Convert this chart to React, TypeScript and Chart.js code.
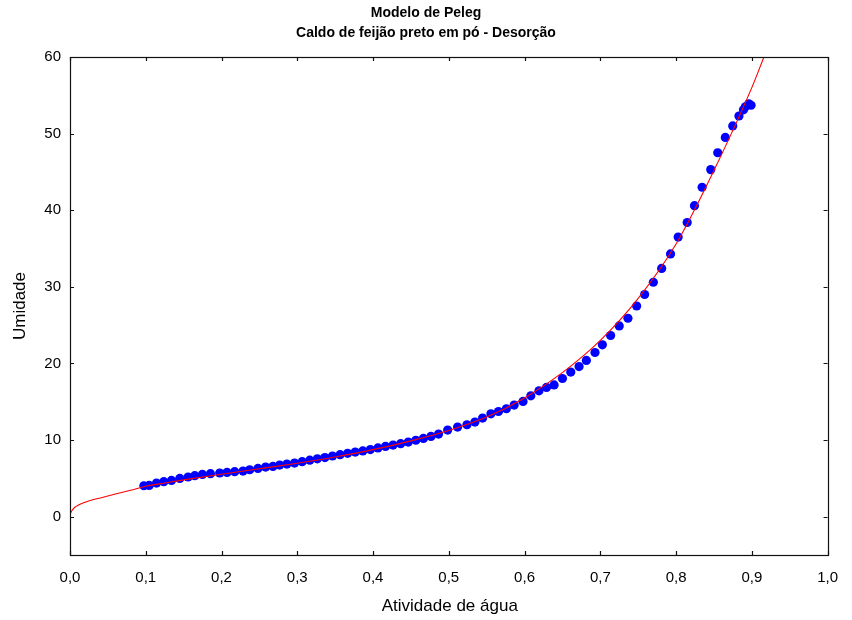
import React, { useEffect, useRef } from "react";
import { Chart, registerables } from "chart.js";

Chart.register(...registerables);

const titleLines = ["Modelo de Peleg", "Caldo de feijão preto em pó - Desorção"];
const xTitle = "Atividade de água";
const yTitle = "Umidade";

const xTicks = [0, 0.1, 0.2, 0.3, 0.4, 0.5, 0.6, 0.7, 0.8, 0.9, 1.0];
const yTicks = [0, 10, 20, 30, 40, 50, 60];

// Observed points (water activity, moisture)
const obsAw = [
  0.0975, 0.1045, 0.1142, 0.1238, 0.134, 0.1449, 0.1559, 0.1647, 0.1748, 0.1854,
  0.1976, 0.2073, 0.2174, 0.2284, 0.2372, 0.2481, 0.2582, 0.2679, 0.2767, 0.2863,
  0.2964, 0.3065, 0.3165, 0.3265, 0.3365, 0.3465, 0.3565, 0.3665, 0.3765, 0.3865,
  0.3965, 0.4065, 0.4165, 0.4265, 0.4365, 0.4465, 0.4565, 0.4665, 0.4765, 0.4865,
  0.4985, 0.5116, 0.524, 0.5345, 0.5446, 0.5556, 0.5656, 0.576, 0.5863, 0.598,
  0.6083, 0.619, 0.629, 0.639, 0.65, 0.661, 0.672, 0.6816, 0.693, 0.7027,
  0.7136, 0.725, 0.7365, 0.748, 0.7585, 0.77, 0.781, 0.7927, 0.8028, 0.8147,
  0.8243, 0.8344, 0.8458, 0.855, 0.865, 0.8748, 0.883, 0.889, 0.8915, 0.896, 0.899,
];
const obsM = [
  4.04, 4.08, 4.39, 4.57, 4.73, 5.0, 5.18, 5.35, 5.52, 5.61,
  5.7, 5.78, 5.87, 5.96, 6.13, 6.3, 6.48, 6.56, 6.74, 6.87,
  7.0, 7.18, 7.38, 7.55, 7.72, 7.92, 8.1, 8.27, 8.43, 8.58,
  8.76, 8.98, 9.17, 9.35, 9.53, 9.74, 9.98, 10.22, 10.48, 10.78,
  11.3, 11.7, 12.0, 12.35, 12.87, 13.43, 13.73, 14.09, 14.57, 15.04,
  15.78, 16.43, 16.87, 17.2, 18.04, 18.87, 19.6, 20.39, 21.43, 22.43,
  23.65, 24.9, 25.9, 27.5, 29.0, 30.6, 32.4, 34.3, 36.5, 38.4,
  40.6, 43.0, 45.3, 47.5, 49.5, 51.0, 52.3, 53.1, 53.5, 53.9, 53.7,
];

// Fitted Peleg curve
const fitAw = [
  0, 0.0005, 0.002, 0.006, 0.012, 0.02, 0.03, 0.04, 0.06, 0.08, 0.1, 0.125, 0.15,
  0.2, 0.25, 0.3, 0.35, 0.4, 0.45, 0.5, 0.55, 0.6, 0.65, 0.7, 0.75, 0.8, 0.85, 0.9, 0.916,
];
const fitM = [
  0, 0.35, 0.7, 1.2, 1.55, 1.88, 2.2, 2.45, 2.95, 3.45, 3.98, 4.4, 4.8,
  5.55, 6.25, 6.98, 7.8, 8.75, 9.9, 11.25, 13.0, 15.5, 18.8, 23.0, 28.5, 35.6, 45.2, 56.0, 60,
];

const FONT = "'Liberation Sans', Arial, sans-serif";

const framePlugin = {
  id: "frameAndTitles",
  afterDraw(chart: any) {
    const { ctx, chartArea } = chart;
    const { left, right, top, bottom } = chartArea;
    const xs = chart.scales.x;
    const ys = chart.scales.y;
    ctx.save();
    ctx.strokeStyle = "#111";
    ctx.lineWidth = 1.2;
    ctx.strokeRect(Math.round(left) + 0.5, Math.round(top) + 0.5, Math.round(right - left), Math.round(bottom - top));
    ctx.beginPath();
    const tl = 4;
    xTicks.forEach((v) => {
      const px = Math.round(xs.getPixelForValue(v)) + 0.5;
      ctx.moveTo(px, bottom);
      ctx.lineTo(px, bottom - tl);
      ctx.moveTo(px, top);
      ctx.lineTo(px, top + tl);
    });
    yTicks.forEach((v) => {
      const py = Math.round(ys.getPixelForValue(v)) + 0.5;
      ctx.moveTo(left, py);
      ctx.lineTo(left + tl, py);
      ctx.moveTo(right, py);
      ctx.lineTo(right - tl, py);
    });
    ctx.stroke();

    ctx.fillStyle = "#000";
    ctx.textAlign = "center";
    ctx.textBaseline = "middle";
    ctx.font = `bold 14px ${FONT}`;
    ctx.fillText(titleLines[0], 426, 13);
    ctx.fillText(titleLines[1], 426, 33);

    ctx.font = `17px ${FONT}`;
    ctx.fillText(xTitle, (left + right) / 2 + 1, 606);
    ctx.translate(20, (top + bottom) / 2);
    ctx.rotate(-Math.PI / 2);
    ctx.fillText(yTitle, 0, 0);
    ctx.restore();
  },
};

export default function App() {
  const ref = useRef<HTMLCanvasElement | null>(null);
  useEffect(() => {
    document.body.style.margin = "0";
    const canvas = ref.current!;
    const chart = new Chart(canvas, {
      type: "scatter",
      data: {
        datasets: [
          {
            type: "line",
            label: "Peleg",
            data: fitAw.map((x, i) => ({ x, y: fitM[i] })),
            borderColor: "#ff0000",
            borderWidth: 1.1,
            pointRadius: 0,
            fill: false,
            cubicInterpolationMode: "monotone",
            order: 0,
          } as any,
          {
            label: "Observado",
            data: obsAw.map((x, i) => ({ x, y: obsM[i] })),
            backgroundColor: "#0000ff",
            borderWidth: 0,
            pointRadius: 4.6,
            order: 1,
          },
        ],
      },
      options: {
        responsive: false,
        animation: false,
        layout: { padding: { top: 57, right: 23, bottom: 0, left: 0 } },
        plugins: {
          legend: { display: false },
          title: { display: false },
          tooltip: { enabled: false },
        },
        scales: {
          x: {
            type: "linear",
            min: 0,
            max: 1,
            grid: { display: false, drawTicks: false },
            border: { display: false },
            afterBuildTicks: (s: any) => {
              s.ticks = xTicks.map((v) => ({ value: v }));
            },
            afterFit: (s: any) => {
              s.height = 65;
            },
            ticks: {
              padding: 14,
              color: "#000",
              font: { family: FONT, size: 15 },
              maxRotation: 0,
              callback: (v: any) => Number(v).toFixed(1).replace(".", ","),
            },
          },
          y: {
            type: "linear",
            min: -5,
            max: 60,
            grid: { display: false, drawTicks: false },
            border: { display: false },
            afterBuildTicks: (s: any) => {
              s.ticks = yTicks.map((v) => ({ value: v }));
            },
            afterFit: (s: any) => {
              s.width = 70;
            },
            ticks: {
              padding: 9,
              color: "#000",
              font: { family: FONT, size: 15 },
              callback: (v: any) => String(v),
            },
          },
        },
      },
      plugins: [framePlugin],
    });
    return () => chart.destroy();
  }, []);
  return <canvas ref={ref} width={852} height={620} style={{ display: "block" }} />;
}
